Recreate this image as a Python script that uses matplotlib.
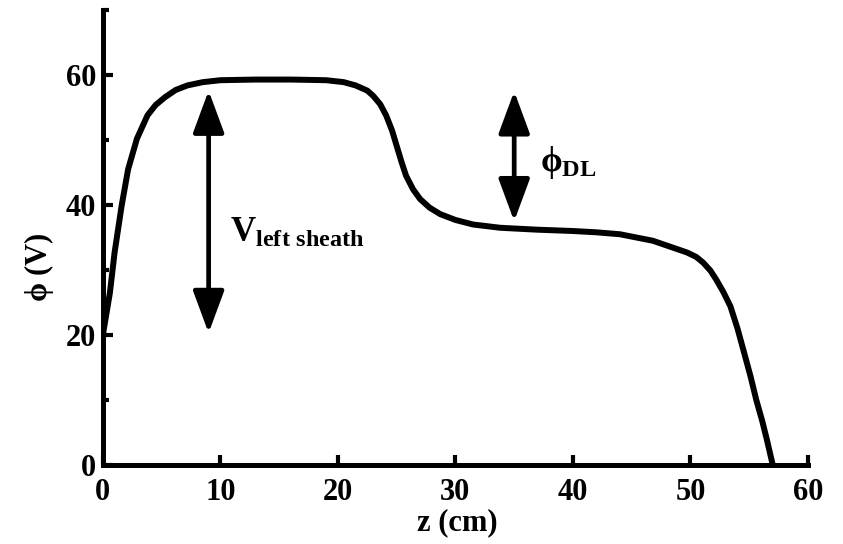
import matplotlib
matplotlib.use("Agg")
from matplotlib import pyplot as plt

# potential profile
z_cm = [0, 0.6, 1.0, 1.6, 2.15, 2.9, 3.8, 4.5, 5.3, 6.2, 7.2, 8.5, 10, 13, 16, 19,
        20.5, 21.5, 22.5, 23.0, 23.6, 24.1, 24.6, 25.0, 25.4, 25.8, 26.4, 27.0,
        27.8, 28.7, 30.0, 31.5, 33.8, 37, 40, 42, 44, 46.8, 49.7, 50.5, 51.1,
        51.7, 52.2, 52.8, 53.4, 54.0, 54.5, 55.1, 55.6, 56.1, 56.5, 57.0]
phi_V = [20, 26.5, 32.7, 39.9, 45.5, 50.2, 53.8, 55.4, 56.6, 57.7, 58.4, 58.9, 59.2,
         59.3, 59.3, 59.2, 58.9, 58.4, 57.6, 56.8, 55.5, 53.8, 51.5, 49.1, 46.7,
         44.5, 42.4, 40.9, 39.6, 38.6, 37.7, 37.0, 36.5, 36.2, 36.0, 35.8, 35.5,
         34.5, 32.7, 32.0, 31.1, 29.9, 28.5, 26.6, 24.4, 21.0, 17.7, 13.7, 10.0,
         6.8, 3.9, 0]

# double arrows: (z, phi bottom, phi top)
sheath_arrow = (9, 20.3, 57.6)
dl_arrow = (35, 37.5, 57.5)

xticks = [0, 10, 20, 30, 40, 50, 60]
yticks = [0, 20, 40, 60]
yminor = [10, 30, 50, 70]

plt.rcParams["font.family"] = ["Liberation Serif", "DejaVu Serif"]
plt.rcParams["font.weight"] = "bold"
plt.rcParams["mathtext.fontset"] = "custom"
plt.rcParams["mathtext.rm"] = "Liberation Serif:bold"
plt.rcParams["mathtext.bf"] = "Liberation Serif:bold"
plt.rcParams["mathtext.it"] = "Liberation Serif"

fig = plt.figure(figsize=(8.43, 5.44), dpi=100)
ax = fig.add_axes([0.122, 0.1452, 0.8365, 0.8364])

ax.plot(z_cm, phi_V, color="black", lw=4.3, solid_joinstyle="round",
        solid_capstyle="butt")

for x, y0, y1 in (sheath_arrow, dl_arrow):
    ax.annotate("", xy=(x, y1), xytext=(x, y0),
                arrowprops=dict(arrowstyle="<|-|>,head_length=1.3,head_width=0.48",
                                mutation_scale=20, lw=3.4, color="black",
                                shrinkA=0, shrinkB=0))

ax.text(10.8, 34.3, r"$\mathbf{V}_{\mathbf{left\ sheath}}$", fontsize=25,
        va="baseline", ha="left")
ax.text(37.2, 45.3, r"$\phi_{\mathbf{DL}}$", fontsize=25, va="baseline", ha="left")

ax.set_xlim(0, 60)
ax.set_ylim(0, 70)
ax.set_xticks(xticks)
ax.set_yticks(yticks)
ax.set_yticks(yminor, minor=True)

for s in ("top", "right"):
    ax.spines[s].set_visible(False)
for s in ("left", "bottom"):
    ax.spines[s].set_linewidth(3.6)

ax.tick_params(axis="both", which="major", direction="in", length=7, width=3,
               labelsize=22)
ax.tick_params(axis="x", which="major", pad=9)
ax.tick_params(axis="y", which="major", pad=5)
ax.tick_params(axis="y", which="minor", direction="in", length=4, width=3)
for lab in ax.get_xticklabels() + ax.get_yticklabels():
    lab.set_fontweight("bold")

ax.set_xlabel("z (cm)", fontsize=22, fontweight="bold")
ax.set_ylabel(r"$\phi$ (V)", fontsize=22, fontweight="bold")
ax.xaxis.set_label_coords(0.503, -0.094)
ax.yaxis.set_label_coords(-0.066, 0.435)

fig.savefig("out.png", dpi=100)
